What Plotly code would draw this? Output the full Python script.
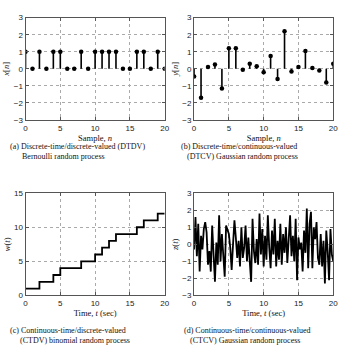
import plotly.graph_objects as go
from plotly.subplots import make_subplots

# ---- data ----
n = list(range(21))
x_n = [1, 0, 1, 0, 1, 1, 0, 0, 1, 0, 1, 1, 1, 1, 0, 0, 1, 1, 0, 1, 0]
y_n = [-0.45, -1.7, 0.1, 0.25, -1.15, 1.2, 1.2, -0.05, 0.3, 0.15, -0.2,
       0.75, -0.6, 2.2, -0.15, 0.1, 1.05, 0.05, -0.1, -0.8, 0.3]
t_w = list(range(21))
w_t = [1, 1, 2, 2, 3, 4, 4, 4, 5, 5, 6, 7, 8, 9, 9, 9, 10, 11, 11, 12, 12]
t_z = [round(i * 0.2, 1) for i in range(101)]
z_t = [-0.3, 1.6, -0.7, 1.2, -1.6, 0.5, -0.3, 0.9, 1.3, 0.7,
       -1.2, -0.4, -1.6, 1.1, -0.6, -2.2, 0.1, -1.2, 1.7, -1.0,
       0.6, -0.5, -1.9, 1.1, 0.8, 0.6, -0.2, -1.5, 0.0, 1.4,
       0.4, -0.8, 0.2, -1.3, 1.0, -0.8, -0.2, 1.1, -1.0, 0.4,
       -1.0, -2.2, 1.5, -0.4, -1.1, 0.3, -1.2, 1.8, -0.6, 0.9,
       -1.3, 0.5, -0.9, 1.7, -0.2, -1.4, 0.8, -0.6, 1.5, -1.3,
       0.2, -0.9, 1.2, -1.2, 0.6, -0.5, 1.0, -1.1, 0.3, 1.7,
       -0.7, 0.5, -1.0, 1.5, -2.1, 0.4, -0.3, 0.1, -1.6, 0.8,
       -0.5, 2.1, -1.4, 1.2, 1.9, -1.4, 1.0, 0.3, 1.3, -0.8,
       -1.2, 0.6, -1.3, 0.2, -2.3, 0.8, -0.4, -2.1, 0.9, -0.6,
       -1.0]

captions = [
    ("(a) Discrete-time/discrete-valued (DTDV)", "Bernoulli random process"),
    ("(b) Discrete-time/continuous-valued", "(DTCV) Gaussian random process"),
    ("(c) Continuous-time/discrete-valued", "(CTDV) binomial random process"),
    ("(d) Continuous-time/continuous-valued", "(CTCV) Gaussian random process"),
]

W, H = 350, 357
fig = make_subplots(rows=2, cols=2)

def stems(xs, ys):
    sx, sy = [], []
    for a, b in zip(xs, ys):
        sx += [a, a, None]
        sy += [0, b, None]
    return sx, sy

sx, sy = stems(n, x_n)
fig.add_trace(go.Scatter(x=sx, y=sy, mode="lines", line=dict(color="black", width=1.6)), 1, 1)
fig.add_trace(go.Scatter(x=n, y=x_n, mode="markers", marker=dict(color="black", size=4.5)), 1, 1)
sx, sy = stems(n, y_n)
fig.add_trace(go.Scatter(x=sx, y=sy, mode="lines", line=dict(color="black", width=1.6)), 1, 2)
fig.add_trace(go.Scatter(x=n, y=y_n, mode="markers", marker=dict(color="black", size=4.5)), 1, 2)
fig.add_trace(go.Scatter(x=t_w, y=w_t, mode="lines", line=dict(color="black", width=1.8, shape="hv")), 2, 1)
fig.add_trace(go.Scatter(x=t_z, y=z_t, mode="lines", line=dict(color="black", width=1.8)), 2, 2)

px = lambda p: p / W
py = lambda p: 1 - p / H

xdom = [[px(24), px(166)], [px(196), px(338)]]
ydom = [[py(119), py(14)], [py(299), py(194)]]

tickfont = dict(family="Liberation Sans", size=8, color="#222")
titlefont = dict(family="Liberation Serif", size=8.5, color="#111")
axcommon = dict(showline=True, linecolor="#555", linewidth=1, mirror="ticks",
                ticks="inside", ticklen=3, tickcolor="#555", showgrid=True,
                gridcolor="#aaa", griddash="dot", gridwidth=0.8, zeroline=False,
                tickfont=tickfont, title_font=titlefont)

ylabels = ["<i>x</i>[<i>n</i>]", "<i>y</i>[<i>n</i>]", "<i>w</i>(<i>t</i>)", "<i>z</i>(<i>t</i>)"]
xlabels = ["Sample, <i>n</i>", "Sample, <i>n</i>", "Time, <i>t</i> (sec)", "Time, <i>t</i> (sec)"]
yranges = [[-3, 3], [-3, 3], [0, 15], [-3, 3]]
ytick = [1, 1, 5, 1]

for k in range(4):
    r, c = divmod(k, 2)
    sfx = "" if k == 0 else str(k + 1)
    fig.layout["xaxis" + sfx].update(domain=xdom[c], range=[0, 20], dtick=5, tick0=0,
                                     title=dict(text=xlabels[k], standoff=0), **axcommon)
    fig.layout["yaxis" + sfx].update(domain=ydom[r], range=yranges[k], dtick=ytick[k], tick0=0,
                                     title=dict(text=ylabels[k], standoff=2), **axcommon)

capfont = dict(family="Liberation Serif", size=8, color="#111")
# (left x, indent in spaces, top y)
cap_pos = [(7, 6, 141), (182, 3, 141), (7, 5, 329), (185, 3, 329)]
for (l1, l2), (x1, ind, y1) in zip(captions, cap_pos):
    txt = l1 + "<br>" + "\u00a0" * ind + l2
    fig.add_annotation(x=px(x1), y=py(y1), xref="paper", yref="paper", text=txt,
                       showarrow=False, xanchor="left", yanchor="top", align="left",
                       font=capfont, borderpad=0)

fig.update_layout(width=W, height=H, margin=dict(l=0, r=0, t=0, b=0),
                  plot_bgcolor="white", paper_bgcolor="white", showlegend=False)
fig.write_html("out.html")
